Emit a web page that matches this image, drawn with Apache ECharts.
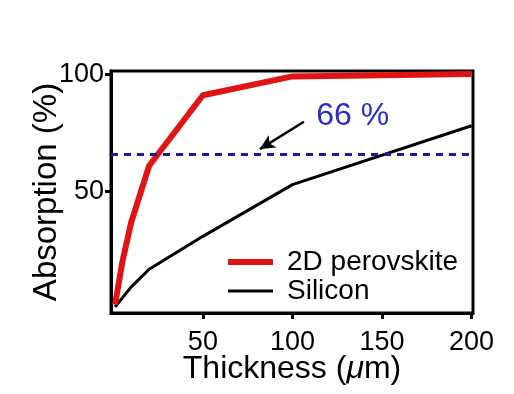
<!DOCTYPE html>
<html>
<head>
<meta charset="utf-8">
<script src="https://cdn.jsdelivr.net/npm/echarts@6/dist/echarts.min.js"></script>
<style>
html,body{margin:0;padding:0;background:#fff;}
#chart{width:514px;height:394px;}
</style>
</head>
<body>
<div id="chart"></div>
<script>
// Data
var perovskiteThickness = [1, 5, 10, 20, 50, 100, 200];
var perovskiteAbsorption = [2, 20, 37, 61, 91, 99, 100];
var siliconThickness = [1, 10, 20, 50, 100, 200];
var siliconAbsorption = [1, 9.5, 17, 31, 53, 78];
var xTicks = [50, 100, 150, 200];
var yTicks = [50, 100];
var thresholdValue = 66;
var thresholdLabel = '66 %';
var arrowFrom = [106.4, 79.7];
var arrowTo = [81.8, 68.1];
var labelPos = [113, 82];

function pairs(xs, ys) {
  return xs.map(function (x, i) { return [x, ys[i]]; });
}

var font = '"Liberation Sans", Arial, Helvetica, sans-serif';
var chart = echarts.init(document.getElementById('chart'), null, {renderer: 'canvas'});

chart.setOption({
  animation: false,
  backgroundColor: '#ffffff',
  grid: {
    left: 111, right: 41, top: 71, bottom: 81,
    show: true, borderColor: '#000', borderWidth: 3, backgroundColor: 'transparent'
  },
  xAxis: {
    type: 'value', min: -1.3, max: 200.8,
    name: '{n|Thickness (}{i|\u03bc}{n|m)}', nameLocation: 'middle', nameGap: 40,
    nameMoveOverlap: false,
    nameTextStyle: {
      fontFamily: font, fontSize: 32, color: '#000',
      rich: {
        n: {fontFamily: font, fontSize: 32, color: '#000'},
        i: {fontFamily: font, fontSize: 32, color: '#000', fontStyle: 'italic'}
      }
    },
    axisLine: {show: true, onZero: false, lineStyle: {color: '#000', width: 3}},
    axisTick: {show: true, customValues: xTicks, length: 6, lineStyle: {color: '#000', width: 3}},
    axisLabel: {customValues: xTicks, fontFamily: font, fontSize: 27, color: '#000', margin: 16},
    splitLine: {show: false}
  },
  yAxis: {
    type: 'value', min: -1.6, max: 101.3,
    name: 'Absorption (%)', nameLocation: 'middle', nameGap: 48, nameRotate: 90,
    nameMoveOverlap: false,
    nameTextStyle: {fontFamily: font, fontSize: 33, color: '#000'},
    axisLine: {show: true, onZero: false, lineStyle: {color: '#000', width: 3}},
    axisTick: {show: true, customValues: yTicks, length: 6, lineStyle: {color: '#000', width: 3}},
    axisLabel: {customValues: yTicks, fontFamily: font, fontSize: 27, color: '#000', margin: 7},
    splitLine: {show: false}
  },
  legend: [
    {
      data: ['2D perovskite'], left: 228, top: 248, orient: 'vertical', padding: 0,
      icon: 'rect', itemWidth: 45, itemHeight: 6,
      textStyle: {fontFamily: font, fontSize: 28, color: '#000', padding: [0, 0, 0, 9]}
    },
    {
      data: ['Silicon'], left: 228, top: 277, orient: 'vertical', padding: 0,
      icon: 'rect', itemWidth: 45, itemHeight: 3,
      textStyle: {fontFamily: font, fontSize: 28, color: '#000', padding: [0, 0, 0, 9]}
    }
  ],
  series: [
    {
      name: 'Silicon', type: 'line', data: pairs(siliconThickness, siliconAbsorption),
      symbol: 'none', smooth: false, z: 3,
      lineStyle: {color: '#000', width: 3}, itemStyle: {color: '#000'},
      markLine: {
        silent: true, symbol: ['none', 'arrow'], symbolSize: [11, 15],
        label: {show: false},
        lineStyle: {color: '#000', width: 2.5, type: 'solid'},
        data: [[{coord: arrowFrom}, {coord: arrowTo}]]
      },
      markPoint: {
        silent: true, symbol: 'circle', symbolSize: 1,
        itemStyle: {color: 'transparent'},
        label: {show: true, position: 'right', distance: 0, formatter: thresholdLabel,
          fontFamily: font, fontSize: 32, color: '#2b2bd0'},
        data: [{coord: labelPos}]
      }
    },
    {
      name: '2D perovskite', type: 'line', data: pairs(perovskiteThickness, perovskiteAbsorption),
      symbol: 'none', smooth: false, z: 4,
      lineStyle: {color: '#e01414', width: 6}, itemStyle: {color: '#e01414'},
      markLine: {
        silent: true, symbol: ['none', 'none'],
        label: {show: false},
        lineStyle: {color: '#1a1aa8', width: 3, type: [7, 6]},
        data: [{yAxis: thresholdValue}]
      }
    }
  ]
});
</script>
</body>
</html>
